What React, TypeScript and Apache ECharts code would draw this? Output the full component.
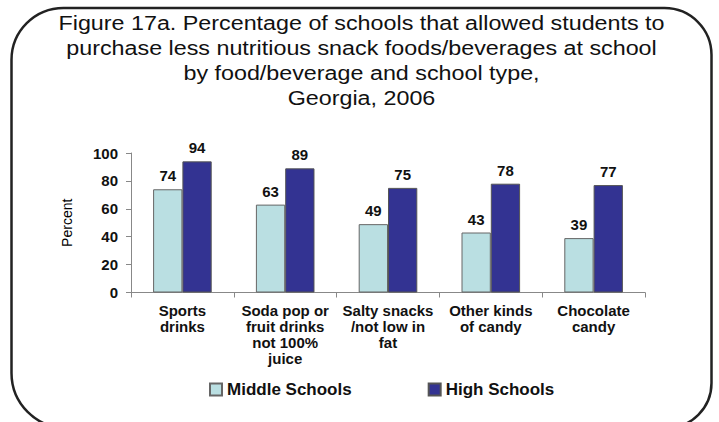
import React, { useEffect, useRef } from "react";
import * as echarts from "echarts";

const categories = [
  "Sports\ndrinks",
  "Soda pop or\nfruit drinks\nnot 100%\njuice",
  "Salty snacks\n/not low in\nfat",
  "Other kinds\nof candy",
  "Chocolate\ncandy",
];
const middleSchools = [74, 63, 49, 43, 39];
const highSchools = [94, 89, 75, 78, 77];
const yTicks = [0, 20, 40, 60, 80, 100];
const titleLines = [
  "Figure 17a. Percentage of schools that allowed students to",
  "purchase less nutritious snack foods/beverages at school",
  "by food/beverage and school type,",
  "Georgia, 2006",
];

export default function App() {
  const ref = useRef<HTMLDivElement>(null);
  useEffect(() => {
    if (!ref.current) return;
    const chart = echarts.init(ref.current, null, { renderer: "svg" });
    const font = "'Liberation Sans', Arial, sans-serif";
    const labelStyle = {
      show: true,
      position: "top",
      distance: 6,
      fontFamily: font,
      fontSize: 15,
      fontWeight: "bold",
      color: "#111",
    };
    chart.setOption({
      animation: false,
      backgroundColor: "#ffffff",
      textStyle: { fontFamily: font },
      graphic: [
        {
          type: "text",
          x: 361.5,
          y: 10,
          scaleX: 1.11,
          silent: true,
          style: {
            text: titleLines.join("\n"),
            textAlign: "center",
            textVerticalAlign: "top",
            fontFamily: font,
            fontSize: 21,
            lineHeight: 25,
            fill: "#111",
          },
        },
        {
          type: "rect",
          silent: true,
          shape: { x: 11.5, y: 8, width: 700, height: 420, r: [52, 47, 45, 55] },
          style: { fill: "none", stroke: "#222", lineWidth: 2.5 },
        },
      ],
      legend: {
        top: 381,
        left: 209,
        padding: 0,
        itemWidth: 12,
        itemHeight: 12,
        itemGap: 76,
        icon: "rect",
        textStyle: {
          fontFamily: font,
          fontSize: 17,
          fontWeight: "bold",
          color: "#111",
        },
        data: ["Middle Schools", "High Schools"],
      },
      grid: { left: 131, right: 74, top: 153, bottom: 129.5, containLabel: false },
      xAxis: {
        type: "category",
        data: categories,
        axisLine: { lineStyle: { color: "#888", width: 1 } },
        axisTick: { show: true, length: 5, lineStyle: { color: "#888" } },
        axisLabel: {
          interval: 0,
          margin: 10,
          fontFamily: font,
          fontSize: 15,
          fontWeight: "bold",
          color: "#111",
          lineHeight: 16,
        },
      },
      yAxis: {
        type: "value",
        min: yTicks[0],
        max: yTicks[yTicks.length - 1],
        interval: 20,
        name: "Percent",
        nameLocation: "middle",
        nameGap: 57,
        nameRotate: 90,
        nameTextStyle: { fontFamily: font, fontSize: 14, color: "#000" },
        axisLine: { show: true, lineStyle: { color: "#888", width: 1 } },
        axisTick: { show: true, length: 5, lineStyle: { color: "#888" } },
        splitLine: { show: false },
        axisLabel: {
          margin: 13,
          fontFamily: font,
          fontSize: 15,
          fontWeight: "bold",
          color: "#111",
        },
      },
      series: [
        {
          name: "Middle Schools",
          type: "bar",
          data: middleSchools,
          barGap: "0%",
          barCategoryGap: "43%",
          itemStyle: { color: "#badfe2", borderColor: "#666", borderWidth: 1 },
          label: labelStyle,
        },
        {
          name: "High Schools",
          type: "bar",
          data: highSchools,
          itemStyle: { color: "#333392", borderColor: "#555", borderWidth: 1 },
          label: labelStyle,
        },
      ],
    });
    return () => chart.dispose();
  }, []);
  return (
    <div
      ref={ref}
      style={{ position: "fixed", left: 0, top: 0, width: 719, height: 422, background: "#fff" }}
    />
  );
}
